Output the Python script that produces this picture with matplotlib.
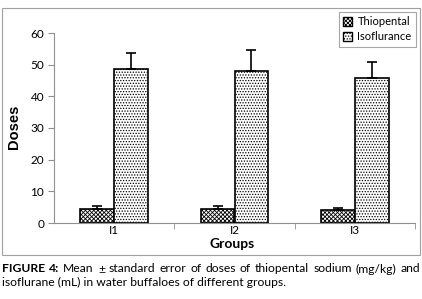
import matplotlib.pyplot as plt
import numpy as np
from matplotlib.patches import Rectangle, Patch

plt.rcParams["font.family"] = ["Lato", "DejaVu Sans"]
plt.rcParams["hatch.linewidth"] = 0.6

groups = ["I1", "I2", "I3"]
thiopental = [4.5, 4.5, 4.0]
thiopental_err = [0.9, 0.9, 0.8]
isoflurane = [48.5, 48.0, 45.7]
isoflurane_err = [5.1, 6.5, 5.1]

W, H = 422, 299
fig = plt.figure(figsize=(W / 100, H / 100), dpi=100)

# grey frame round the chart area
fig.patches.append(
    Rectangle((2 / W, 1 - 255 / H), 418 / W, 247 / H,
              transform=fig.transFigure, fill=False,
              edgecolor="#a0a0a0", linewidth=0.8)
)

ax = fig.add_axes([54 / W, 1 - 223 / H, 361 / W, 190 / H])

x = np.arange(len(groups))
width = 0.28
ax.bar(x - width / 2, thiopental, width, color="white", edgecolor="black",
       hatch="xxxxxxxx", linewidth=1.2, label="Thiopental")
ax.bar(x + width / 2, isoflurane, width, color="white", edgecolor="black",
       hatch="......", linewidth=1.2, label="Isoflurance")
ax.errorbar(x - width / 2, thiopental, yerr=[np.zeros(3), thiopental_err],
            fmt="none", ecolor="black", elinewidth=1.2, capsize=3.5, capthick=1.2)
ax.errorbar(x + width / 2, isoflurane, yerr=[np.zeros(3), isoflurane_err],
            fmt="none", ecolor="black", elinewidth=1.2, capsize=3.5, capthick=1.2)

ax.set_xlim(-0.5, 2.5)
ax.set_ylim(0, 60)
ax.set_yticks(range(0, 61, 10))
ax.set_xticks(x)
ax.set_xticklabels(groups)
ax.set_xticks([0.5, 1.5, 2.5], minor=True)
ax.tick_params(axis="x", which="major", length=0, pad=1.5, labelsize=8.5)
ax.tick_params(axis="x", which="minor", length=4, color="#909090")
ax.tick_params(axis="y", length=4, color="#909090", labelsize=8.5, pad=3)
for s in ["top", "right"]:
    ax.spines[s].set_visible(False)
for s in ["left", "bottom"]:
    ax.spines[s].set_color("#909090")
    ax.spines[s].set_linewidth(0.8)

fig.text(232 / W, 1 - 243.5 / H, "Groups", ha="center", va="center",
         fontsize=10, fontweight="bold")
fig.text(14 / W, 1 - 127 / H, "Doses", ha="center", va="center",
         rotation=90, fontsize=10.5, fontweight="bold", family=["Liberation Sans"])

handles = [
    Patch(facecolor="white", edgecolor="black", hatch="xxxxxxxx", label="Thiopental"),
    Patch(facecolor="white", edgecolor="black", hatch="......", label="Isoflurance"),
]
leg = fig.legend(handles=handles, loc="upper right",
                 bbox_to_anchor=(416 / W, 1 - 12 / H), borderaxespad=0,
                 fontsize=8, frameon=True, fancybox=False,
                 edgecolor="#909090", handlelength=0.8, handleheight=0.8,
                 handletextpad=0.5, borderpad=0.4, labelspacing=0.35)
leg.get_frame().set_linewidth(0.8)

# caption, first line justified across the frame width
fig.canvas.draw()
r = fig.canvas.get_renderer()
cap_size = 8.7
line1 = [("FIGURE", "bold"), ("4:", "bold")] + [
    (w, "normal") for w in
    "Mean \u00b1 standard error of doses of thiopental sodium (mg/kg) and".split()
]
texts = []
for word, weight in line1:
    t = fig.text(0, 1 - 269 / H, word, fontsize=cap_size, fontweight=weight,
                 va="center", ha="left")
    texts.append(t)
widths = [t.get_window_extent(r).width for t in texts]
gap = (418 - sum(widths)) / (len(texts) - 1)
xpos = 2.0
for t, w in zip(texts, widths):
    t.set_x(xpos / W)
    xpos += w + gap
fig.text(2 / W, 1 - 282 / H,
         "isoflurane (mL) in water buffaloes of different groups.",
         fontsize=cap_size, va="center", ha="left")

fig.savefig("out.png", dpi=100)
